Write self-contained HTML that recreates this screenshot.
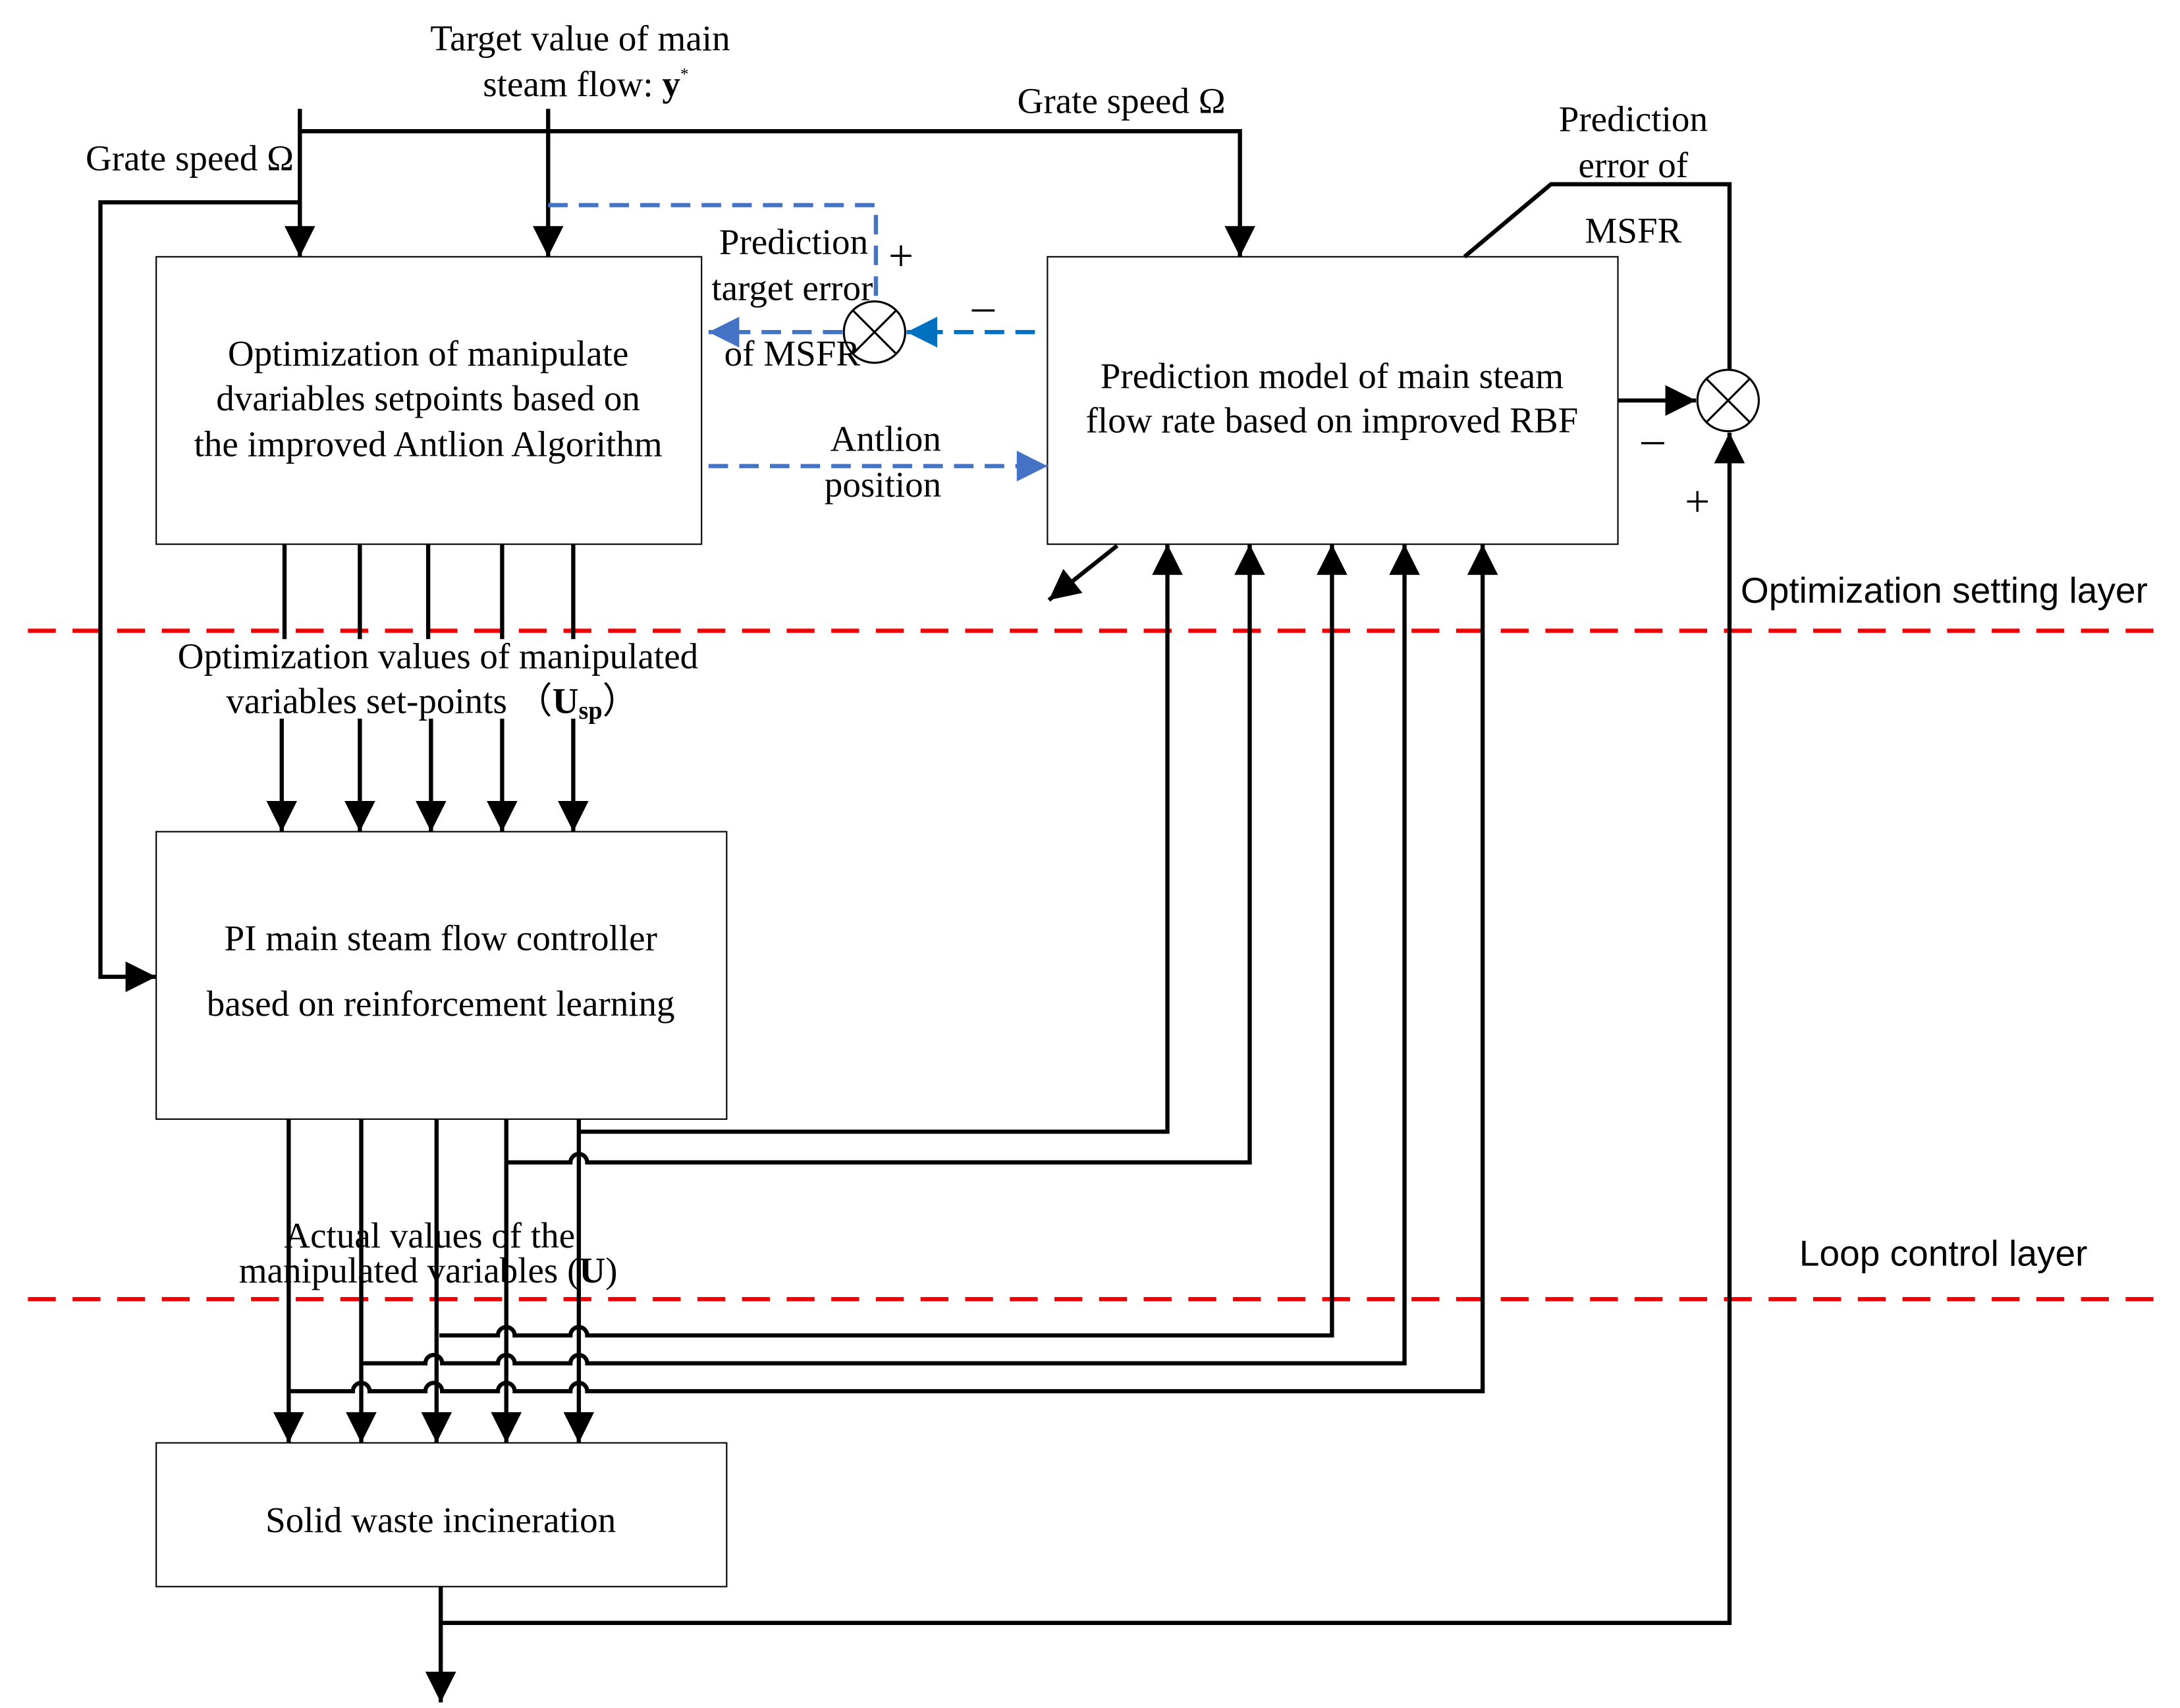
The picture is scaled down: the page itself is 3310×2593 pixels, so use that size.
<!DOCTYPE html>
<html><head><meta charset="utf-8"><style>html,body{margin:0;padding:0;background:#fff}svg{display:block}</style></head><body>
<svg width="3310" height="2593" viewBox="0 0 1563 1224" preserveAspectRatio="none" xmlns="http://www.w3.org/2000/svg" font-family="Liberation Serif, serif" font-size="26">
<defs>
<marker id="ak" viewBox="0 0 10 10" refX="10" refY="5" markerWidth="24" markerHeight="22" markerUnits="userSpaceOnUse" orient="auto"><path d="M0,0 L10,5 L0,10 z" fill="#000"/></marker>
<marker id="ab" viewBox="0 0 10 10" refX="10" refY="5" markerWidth="26" markerHeight="22" markerUnits="userSpaceOnUse" orient="auto"><path d="M0,0 L10,5 L0,10 z" fill="#4472c4"/></marker>
<marker id="ab2" viewBox="0 0 10 10" refX="10" refY="5" markerWidth="26" markerHeight="22" markerUnits="userSpaceOnUse" orient="auto"><path d="M0,0 L10,5 L0,10 z" fill="#0070c0"/></marker>
</defs>
<g fill="none" stroke="#000" stroke-width="1">
<rect x="112" y="184" width="391" height="206"/>
<rect x="751" y="184" width="409" height="206"/>
<rect x="112" y="596" width="409" height="206"/>
<rect x="112" y="1034" width="409" height="103"/>
</g>
<g stroke="#e00" stroke-width="3" stroke-dasharray="20,12"><line x1="20" y1="452" x2="1555" y2="452"/><line x1="20" y1="931" x2="1555" y2="931"/></g>
<g fill="none" stroke="#000" stroke-width="3">
<line x1="393" y1="78" x2="393" y2="184" marker-end="url(#ak)"/>
<line x1="215" y1="78" x2="215" y2="184" marker-end="url(#ak)"/>
<polyline points="215,94 889,94 889,184" marker-end="url(#ak)"/>
<polyline points="215,145 72,145 72,700 112,700" marker-end="url(#ak)"/>
<polyline points="1050,184 1112,132 1240,132 1240,265"/>
<line x1="1160" y1="287" x2="1216" y2="287" marker-end="url(#ak)"/>
<polyline points="316,1137 316,1163 1240,1163 1240,310" marker-end="url(#ak)"/>
<line x1="316" y1="1163" x2="316" y2="1220" marker-end="url(#ak)"/>
<line x1="801" y1="391" x2="752" y2="430" marker-end="url(#ak)"/>
<g>
<line x1="204" y1="390" x2="204" y2="458"/><line x1="258" y1="390" x2="258" y2="458"/><line x1="307" y1="390" x2="307" y2="458"/><line x1="360" y1="390" x2="360" y2="458"/><line x1="411" y1="390" x2="411" y2="458"/>
<line x1="202" y1="515" x2="202" y2="596" marker-end="url(#ak)"/><line x1="258" y1="515" x2="258" y2="596" marker-end="url(#ak)"/><line x1="309" y1="515" x2="309" y2="596" marker-end="url(#ak)"/><line x1="360" y1="515" x2="360" y2="596" marker-end="url(#ak)"/><line x1="411" y1="515" x2="411" y2="596" marker-end="url(#ak)"/>
</g>
<polyline points="415,811 837,811 837,390" marker-end="url(#ak)"/>
<path d="M363,833 L409,833 A6,6 0 0 1 421,833 L896,833 L896,390" marker-end="url(#ak)"/>
<path d="M315,957 L357,957 A6,6 0 0 1 369,957 L409,957 A6,6 0 0 1 421,957 L955,957 L955,390" marker-end="url(#ak)"/>
<path d="M259,977 L305,977 A6,6 0 0 1 317,977 L357,977 A6,6 0 0 1 369,977 L409,977 A6,6 0 0 1 421,977 L1007,977 L1007,390" marker-end="url(#ak)"/>
<path d="M207,997 L253,997 A6,6 0 0 1 265,997 L305,997 A6,6 0 0 1 317,997 L357,997 A6,6 0 0 1 369,997 L409,997 A6,6 0 0 1 421,997 L1063,997 L1063,390" marker-end="url(#ak)"/>
<line x1="207" y1="802" x2="207" y2="1034" marker-end="url(#ak)"/>
<line x1="259" y1="802" x2="259" y2="1034" marker-end="url(#ak)"/>
<line x1="313" y1="802" x2="313" y2="1034" marker-end="url(#ak)"/>
<line x1="363" y1="802" x2="363" y2="1034" marker-end="url(#ak)"/>
<line x1="415" y1="802" x2="415" y2="1034" marker-end="url(#ak)"/>
</g>
<g fill="none" stroke-width="3" stroke-dasharray="14,8">
<polyline points="393,147 628,147 628,215" stroke="#4472c4"/>
<line x1="742" y1="238" x2="650" y2="238" stroke="#0070c0" marker-end="url(#ab2)"/>
<line x1="604" y1="238" x2="508" y2="238" stroke="#4472c4" marker-end="url(#ab)"/>
<line x1="508" y1="334" x2="751" y2="334" stroke="#4472c4" marker-end="url(#ab)"/>
</g>
<g fill="#fff" stroke="#000" stroke-width="1.5">
<circle cx="627" cy="238" r="22"/><circle cx="1239" cy="287" r="22"/>
</g>
<g stroke="#000" stroke-width="1.5"><path d="M611,222 L643,254 M643,222 L611,254"/><path d="M1223,271 L1255,303 M1255,271 L1223,303"/></g>
<g text-anchor="middle" fill="#000">
<text x="416" y="36">Target value of main</text>
<text x="420" y="69">steam flow: <tspan font-weight="bold">y</tspan><tspan font-size="12" dy="-12">*</tspan></text>
<text x="804" y="81">Grate speed  Ω</text>
<text x="136" y="122">Grate speed  Ω</text>
<text x="1171" y="94">Prediction</text><text x="1171" y="127">error of</text><text x="1171" y="174">MSFR</text>
<text x="569" y="182">Prediction</text><text x="568" y="215">target error</text><text x="568" y="262">of MSFR</text>
<text x="646" y="194" font-size="32">+</text><text x="705" y="230" font-size="32">–</text><text x="1185" y="325" font-size="32">–</text><text x="1217" y="370" font-size="32">+</text>
<text x="635" y="323">Antlion</text><text x="633" y="356">position</text>
<text x="307" y="262">Optimization  of manipulate</text>
<text x="307" y="294">dvariables  setpoints based on</text>
<text x="307" y="327">the improved Antlion Algorithm</text>
<text x="955" y="278">Prediction model of main steam</text>
<text x="955" y="310">flow rate based on improved RBF</text>
<text x="314" y="479">Optimization values of manipulated</text>
<text x="310" y="511">variables set-points （<tspan font-weight="bold">U<tspan font-size="18" dy="4">sp</tspan></tspan><tspan dy="-4">）</tspan></text>
<text x="316" y="681">PI main steam flow controller</text>
<text x="316" y="728">based on reinforcement learning</text>
<text x="308" y="894">Actual values of the</text>
<text x="307" y="919">manipulated variables (<tspan font-weight="bold">U</tspan>)</text>
<text x="316" y="1098">Solid waste incineration</text>
</g>
<g font-family="Liberation Sans, sans-serif" font-size="26" fill="#000">
<text x="1248" y="432">Optimization setting layer</text>
<text x="1290" y="907">Loop control layer</text>
</g>
</svg>
</body></html>
